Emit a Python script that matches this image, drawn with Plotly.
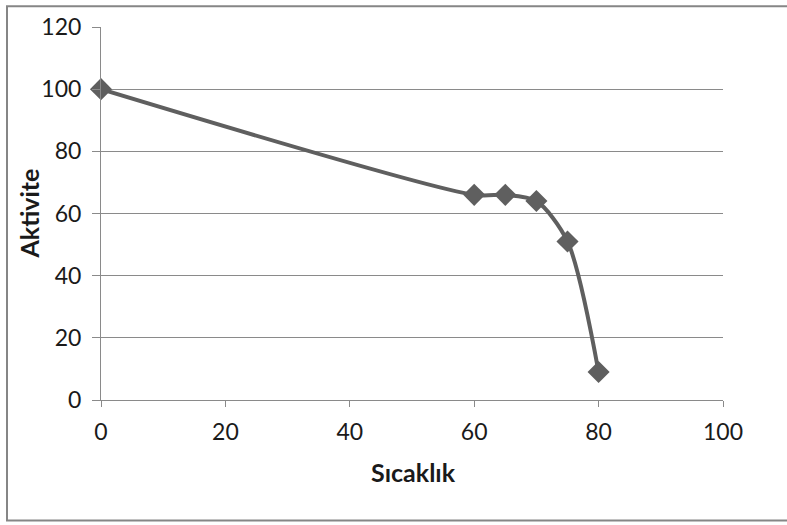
import plotly.graph_objects as go

sicaklik = [0, 60, 65, 70, 75, 80]
aktivite = [100, 66, 66, 64, 51, 9]
x_ticks = [0, 20, 40, 60, 80, 100]
y_ticks = [0, 20, 40, 60, 80, 100, 120]
x_title = "Sıcaklık"
y_title = "Aktivite"

W, H = 787, 525
L, R, T, B = 101, 64, 22, 125
pw, ph = W - L - R, H - T - B

def px_x(p):
    return (p - L) / pw

def px_y(p):
    return (H - B - p) / ph

fig = go.Figure()
fig.add_trace(go.Scatter(
    x=sicaklik, y=aktivite, mode="lines+markers",
    line=dict(color="#5f5f5f", width=4, shape="spline", smoothing=0.8),
    marker=dict(symbol="diamond", size=17, color="#5f5f5f"),
    cliponaxis=False, showlegend=False,
))

font = "Lato, 'Open Sans', sans-serif"
txt = "#1a1a1a"
fig.update_layout(
    width=W, height=H,
    margin=dict(l=L, r=R, t=T, b=B),
    paper_bgcolor="white", plot_bgcolor="white",
    font=dict(family=font, color=txt),
    xaxis=dict(range=[0, 100], tickvals=x_ticks, showgrid=False, zeroline=False,
               showline=True, linecolor="#8a8a8a", linewidth=1,
               ticks="outside", ticklen=6, tickcolor="#8a8a8a",
               tickfont=dict(size=23, family=font, color=txt), ticklabelstandoff=5),
    yaxis=dict(range=[0, 120], tickvals=y_ticks, showgrid=True, gridcolor="#8a8a8a", gridwidth=1,
               zeroline=False, showline=True, linecolor="#8a8a8a", linewidth=1,
               ticks="outside", ticklen=8, tickcolor="#8a8a8a",
               tickfont=dict(size=23, family=font, color=txt), ticklabelstandoff=6),
)

fig.add_annotation(xref="paper", yref="paper", x=px_x(413), y=px_y(473),
                   text="<b>" + x_title + "</b>", showarrow=False,
                   font=dict(size=25, family=font, color=txt),
                   xanchor="center", yanchor="middle")
fig.add_annotation(xref="paper", yref="paper", x=px_x(28), y=px_y(211),
                   text="<b>" + y_title + "</b>", showarrow=False, textangle=-90,
                   font=dict(size=25, family=font, color=txt),
                   xanchor="center", yanchor="middle")

# outer chart border
fig.add_shape(type="rect", xref="paper", yref="paper",
              x0=px_x(7), x1=px_x(800),
              y0=px_y(522), y1=px_y(1),
              line=dict(color="#868686", width=2), layer="below")

fig.write_html("out.html")
